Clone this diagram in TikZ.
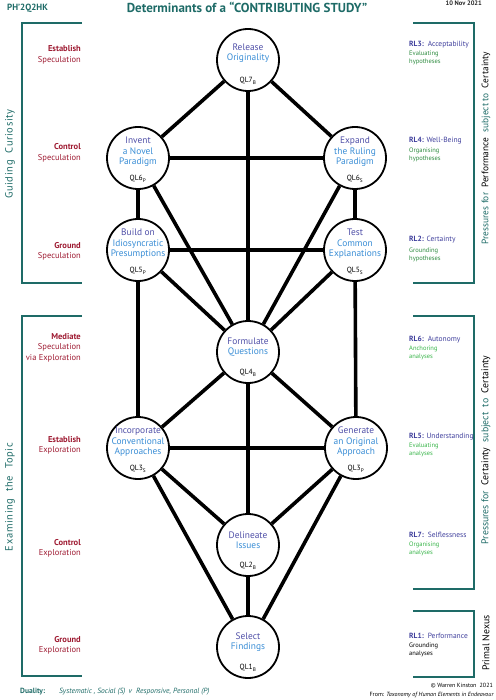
\documentclass[tikz,border=0pt]{standalone}
\usepackage{fontspec}
\setmainfont{PT Sans}
\usetikzlibrary{backgrounds}
\definecolor{tealc}{HTML}{1E6B67}
\definecolor{dred}{HTML}{9E1B32}
\definecolor{nA}{HTML}{5050A8}
\definecolor{nB}{HTML}{3A8ED6}
\definecolor{rlblue}{HTML}{3F3F9C}
\definecolor{hgreen}{HTML}{2E8B40}
\definecolor{agreen}{HTML}{39B54A}
\newcommand\fA[1]{\textcolor{nA}{#1}}
\newcommand\fB[1]{\textcolor{nB}{#1}}
\newcommand\rstack[1]{\begin{tabular}[t]{@{}r@{}}#1\end{tabular}}
\newcommand\lstack[1]{\begin{tabular}[t]{@{}l@{}}#1\end{tabular}}
\begin{document}
\begin{tikzpicture}[x=1pt,y=-1pt,
  qlc/.style={circle, draw=black, line width=1.8pt, fill=white, minimum size=62pt, inner sep=0pt},
  edge/.style={line width=3.6pt, black},
  ntext/.style={align=center, font=\fontsize{9.4}{10.5}\selectfont, inner sep=0pt},
  qltext/.style={anchor=base, font=\fontsize{7.5}{8}\selectfont, inner sep=0pt},
  brk/.style={draw=tealc, line width=2pt},
  llab/.style={anchor=base east, inner sep=0pt, text=dred, font=\fontsize{8.5}{10.5}\selectfont},
  rlt/.style={anchor=base west, inner sep=0pt, text=rlblue, font=\fontsize{7.5}{9}\selectfont},
  rls/.style={anchor=base west, inner sep=0pt, font=\fontsize{6.5}{8}\selectfont},
  vlab/.style={rotate=90, inner sep=0pt, font=\fontsize{9.8}{12}\selectfont},
]
\path[use as bounding box] (0,0) rectangle (495,700);

% header
\node[anchor=base west, inner sep=0pt, text=tealc, font=\fontsize{9}{10}\selectfont\bfseries] (hdr) at (7,11) {PH’2Q2HK};
\node[anchor=base, inner sep=0pt, text=tealc, font=\fontsize{13}{14}\selectfont\bfseries] (title) at (247,12.5) {Determinants of a “CONTRIBUTING STUDY”};
\node[anchor=base east, inner sep=0pt, text=black!85, font=\fontsize{6.5}{7}\selectfont\bfseries] (date) at (482,6) {10 Nov 2021};

% brackets
\draw[brk] (82,23) -- (22,23) -- (22,283) -- (82,283);
\draw[brk] (82,316) -- (22,316) -- (22,676) -- (82,676);
\draw[brk] (413,23) -- (474,23) -- (474,283) -- (413,283);
\draw[brk] (413,316) -- (474,316) -- (474,589) -- (413,589);
\draw[brk] (413,611) -- (474,611) -- (474,677) -- (413,677);

% vertical labels
\node[vlab, text=tealc, font=\fontsize{10.5}{12}\selectfont\addfontfeature{LetterSpace=6}] (gc) at (10,154) {Guiding \ Curiosity};
\node[vlab, text=tealc, font=\fontsize{10.5}{12}\selectfont\addfontfeature{LetterSpace=6}] (et) at (10,497) {Examining \ the \ Topic};
\node[vlab, font=\fontsize{9.4}{12}\selectfont] (pp) at (486,148) {\textcolor{tealc}{Pressures for} \ Performance \ \textcolor{tealc}{subject to} \ Certainty};
\node[vlab] (pc) at (486,450) {\textcolor{tealc}{Pressures for} \ Certainty \ \textcolor{tealc}{subject \ to} \ Certainty};
\node[vlab] (pn) at (486,643) {Primal Nexus};

% left labels
\node[llab] (l1) at (81,52) {\rstack{\textbf{Establish}\\Speculation}};
\node[llab] (l2) at (81,150) {\rstack{\textbf{Control}\\Speculation}};
\node[llab] (l3) at (81,248) {\rstack{\textbf{Ground}\\Speculation}};
\node[llab] (l4) at (81,339) {\rstack{\textbf{Mediate}\\Speculation\\via Exploration}};
\node[llab] (l5) at (81,442) {\rstack{\textbf{Establish}\\Exploration}};
\node[llab] (l6) at (81,545) {\rstack{\textbf{Control}\\Exploration}};
\node[llab] (l7) at (81,642) {\rstack{\textbf{Ground}\\Exploration}};

% right labels
\node[rlt] (r3t) at (409,47) {\textbf{RL3:} \,Acceptability};
\node[rls, text=hgreen] (r3s) at (409,56) {\lstack{Evaluating\\hypotheses}};
\node[rlt] (r4t) at (409,143) {\textbf{RL4:} Well-Being};
\node[rls, text=hgreen] (r4s) at (409,153) {\lstack{Organising\\hypotheses}};
\node[rlt] (r2t) at (409,242) {\textbf{RL2:} Certainty};
\node[rls, text=hgreen] (r2s) at (409,252) {\lstack{Grounding\\hypotheses}};
\node[rlt] (r6t) at (409,341) {\textbf{RL6:} \,Autonomy};
\node[rls, text=agreen] (r6s) at (409,350) {\lstack{Anchoring\\analyses}};
\node[rlt] (r5t) at (409,438) {\textbf{RL5:} Understanding};
\node[rls, text=agreen] (r5s) at (409,447) {\lstack{Evaluating\\analyses}};
\node[rlt] (r7t) at (409,537) {\textbf{RL7:} \,Selflessness};
\node[rls, text=agreen] (r7s) at (409,546) {\lstack{Organising\\analyses}};
\node[rlt] (r1t) at (409,638) {\textbf{RL1:} \,Performance};
\node[rls, text=black] (r1s) at (409,647) {\lstack{Grounding\\analyses}};

% circles
\node[qlc] (rel) at (248,60) {};
\node[qlc] (inv) at (138,158) {};
\node[qlc] (exp) at (355,158) {};
\node[qlc] (bui) at (138,250) {};
\node[qlc] (tes) at (355,250) {};
\node[qlc] (for) at (248,352) {};
\node[qlc] (inc) at (138,448) {};
\node[qlc] (gen) at (356,448) {};
\node[qlc] (del) at (248,545) {};
\node[qlc] (sel) at (248,647) {};

% edges
\begin{scope}[on background layer]
\foreach \a/\b in {rel/inv, rel/exp, rel/for, inv/exp, inv/bui, inv/for, exp/tes, exp/for,
  bui/tes, bui/for, tes/for, bui/inc, tes/gen, for/inc, for/gen, for/del, inc/gen,
  inc/del, inc/sel, gen/del, gen/sel, del/sel}
  \draw[edge] (\a) -- (\b);
\end{scope}

% node texts
\node[ntext] (relT) at ([yshift=7pt]rel.center) {\fA{Release}\\\fB{Originality}};
\node[ntext] (invT) at ([yshift=6pt]inv.center) {\fA{Invent}\\\fB{a Novel}\\\fB{Paradigm}};
\node[ntext] (expT) at ([yshift=6pt]exp.center) {\fA{Expand}\\\fB{the Ruling}\\\fB{Paradigm}};
\node[ntext] (buiT) at ([yshift=6pt]bui.center) {\fA{Build on}\\\fB{Idiosyncratic}\\\fB{Presumptions}};
\node[ntext] (tesT) at ([yshift=6pt]tes.center) {\fA{Test}\\\fB{Common}\\\fB{Explanations}};
\node[ntext] (forT) at ([yshift=5pt]for.center) {\fA{Formulate}\\\fB{Questions}};
\node[ntext] (incT) at ([yshift=6pt]inc.center) {\fA{Incorporate}\\\fB{Conventional}\\\fB{Approaches}};
\node[ntext] (genT) at ([yshift=6pt]gen.center) {\fA{Generate}\\\fB{an Original}\\\fB{Approach}};
\node[ntext] (delT) at ([yshift=5pt]del.center) {\fA{Delineate}\\\fB{Issues}};
\node[ntext] (selT) at ([yshift=5pt]sel.center) {\fA{Select}\\\fB{Findings}};

% QL labels
\node[qltext] (relQ) at ([yshift=9pt]rel.south) {QL7\textsubscript{B}};
\node[qltext] (invQ) at ([yshift=9pt]inv.south) {QL6\textsubscript{P}};
\node[qltext] (expQ) at ([yshift=9pt]exp.south) {QL6\textsubscript{S}};
\node[qltext] (buiQ) at ([yshift=9pt]bui.south) {QL5\textsubscript{P}};
\node[qltext] (tesQ) at ([yshift=9pt]tes.south) {QL5\textsubscript{S}};
\node[qltext] (forQ) at ([yshift=9pt]for.south) {QL4\textsubscript{B}};
\node[qltext] (incQ) at ([yshift=9pt]inc.south) {QL3\textsubscript{S}};
\node[qltext] (genQ) at ([yshift=9pt]gen.south) {QL3\textsubscript{P}};
\node[qltext] (delQ) at ([yshift=9pt]del.south) {QL2\textsubscript{B}};
\node[qltext] (selQ) at ([yshift=9pt]sel.south) {QL1\textsubscript{B}};

% footer
\node[anchor=base west, inner sep=0pt, text=tealc, font=\fontsize{7.5}{8}\selectfont\bfseries] (dual) at (20,693) {Duality:};
\node[anchor=base west, inner sep=0pt, text=tealc, font=\fontsize{7.5}{8}\selectfont\itshape] (dualT) at (59,693) {Systematic , Social (S) \,v \;Responsive, Personal (P)};
\node[anchor=base east, inner sep=0pt, font=\fontsize{6}{7}\selectfont] (copy) at (493,687) {© Warren Kinston \ 2021};
\node[anchor=base east, inner sep=0pt, font=\fontsize{6}{7}\selectfont] (from) at (494,696) {From: \textit{Taxonomy of Human Elements in Endeavour}};
\end{tikzpicture}
\end{document}
